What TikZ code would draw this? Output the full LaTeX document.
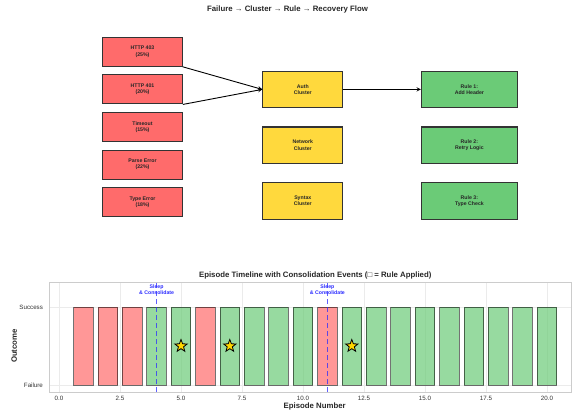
\documentclass[tikz,border=0pt]{standalone}
\usepackage{fontspec}
\setmainfont{Liberation Sans}
\usetikzlibrary{arrows, positioning, shapes.geometric}

\definecolor{failred}{HTML}{FF6B6B}
\definecolor{clusteryellow}{HTML}{FFD93D}
\definecolor{rulegreen}{HTML}{6BCB77}
\definecolor{stargold}{HTML}{FFD700}
\definecolor{sleepblue}{HTML}{2B2BFF}

\begin{document}
\begin{tikzpicture}[
            > = stealth, % arrow head style
            x = 1pt, y = 1pt, % work in points
            node distance = 7.5pt and 79.4pt, % vertical and horizontal gaps
            semithick % line style
        ]

        \useasboundingbox (0,0) rectangle (572,414);

        \tikzstyle{box}=[
            draw = black!80,
            line width = 1.1pt,
            align = center,
            text = black!85,
            font = \fontsize{5.2}{6.2}\selectfont\bfseries
        ]
        \tikzstyle{failure}=[box, fill = failred, minimum width = 79.6pt, minimum height = 29pt]
        \tikzstyle{cluster}=[box, fill = clusteryellow, minimum width = 80pt, minimum height = 36.4pt]
        \tikzstyle{rule}=[box, fill = rulegreen, minimum width = 96pt, minimum height = 36.4pt]
        \tikzstyle{heading}=[text = black!85, font = \fontsize{7.8}{9}\selectfont\bfseries]
        \tikzstyle{ticklabel}=[text = black!80, font = \fontsize{6.2}{7}\selectfont]
        \tikzstyle{gridline}=[black!8, line width = 0.6pt]
        \tikzstyle{bar}=[draw = black, draw opacity = 0.55, line width = 0.8pt, fill opacity = 0.7]
        \tikzstyle{consolidate}=[sleepblue, draw opacity = 0.75, line width = 1.2pt, dash pattern = on 5pt off 3pt]
        \tikzstyle{sleeplabel}=[text = sleepblue, align = center, inner sep = 0pt,
            font = \fontsize{5.2}{6}\selectfont\bfseries]
        \tikzstyle{applied}=[star, star points = 5, star point ratio = 2.4, minimum size = 13pt,
            inner sep = 0pt, fill = stargold, draw = black, line width = 0.8pt]

        % failure -> cluster -> rule flow
        \node[heading] (flowtitle) at (287.5, 405) {Failure → Cluster → Rule → Recovery Flow};

        \node[failure] (h403) at (142.5, 362.2) {HTTP 403\\(25\%)};
        \node[failure] (h401) [below=of h403] {HTTP 401\\(20\%)};
        \node[failure] (timeout) [below=of h401] {Timeout\\(15\%)};
        \node[failure] (parse) [below=of timeout] {Parse Error\\(22\%)};
        \node[failure] (type) [below=of parse] {Type Error\\(18\%)};

        \node[cluster] (auth) [right=of h401] {Auth\\Cluster};
        \node[cluster] (network) [below=18.3pt of auth] {Network\\Cluster};
        \node[cluster] (syntax) [below=18.3pt of network] {Syntax\\Cluster};

        \node[rule] (rule1) [right=77.5pt of auth] {Rule 1:\\Add Header};
        \node[rule] (rule2) [right=77.5pt of network] {Rule 2:\\Retry Logic};
        \node[rule] (rule3) [right=77.5pt of syntax] {Rule 3:\\Type Check};

        \path[->, line width = 0.9pt] (h403.south east) edge (auth.west);
        \path[->, line width = 0.9pt] (h401.south east) edge (auth.west);
        \path[->, line width = 0.9pt] (auth) edge (rule1);

        % episode timeline, one unit per episode
        \begin{scope}[shift = {(59,29)}, x = 24.4pt, y = 78pt]
            \foreach \t [count=\i] in {0,2.5,...,20} {
                \draw[gridline] (\t,-0.09) -- (\t,1.31);
                \node[ticklabel] (xtick\i) at (\t,-0.167)
                    {\pgfmathprintnumber[fixed, fixed zerofill, precision=1, assume math mode=true]{\t}};
            }
            \draw[gridline] (-0.41,0) -- (21,0);
            \draw[gridline] (-0.41,1) -- (21,1);
            \draw[black!20, line width = 0.8pt] (-0.41,-0.09) rectangle (21,1.31);

            \foreach \ep in {1,2,3,6,11}
                \draw[bar, fill = failred] (\ep-0.4,0) rectangle (\ep+0.4,1);
            \foreach \ep in {4,5,7,8,9,10,12,13,...,20}
                \draw[bar, fill = rulegreen] (\ep-0.4,0) rectangle (\ep+0.4,1);

            \foreach \ep in {5,7,12}
                \node[applied] (star\ep) at (\ep,0.5) {};

            % sleep phases
            \foreach \ep in {4,11} {
                \node[sleeplabel] (sleep\ep) at (\ep,1.22) {Sleep\\\& Consolidate};
                \draw[consolidate] (\ep,-0.09) -- (\ep,1.31);
            }

            \node[ticklabel, anchor = east] (success) at (-0.51,1) {Success};
            \node[ticklabel, anchor = east] (failure) at (-0.51,0) {Failure};

            \node[heading] (timelinetitle) at (10.5,1.4)
                {Episode Timeline with Consolidation Events (□ = Rule Applied)};
            \node[heading] (xlabel) at (10.48,-0.27) {Episode Number};
            \node[heading, rotate = 90] (ylabel) at (-1.84,0.5) {Outcome};
        \end{scope}

  \end{tikzpicture}
\end{document}
